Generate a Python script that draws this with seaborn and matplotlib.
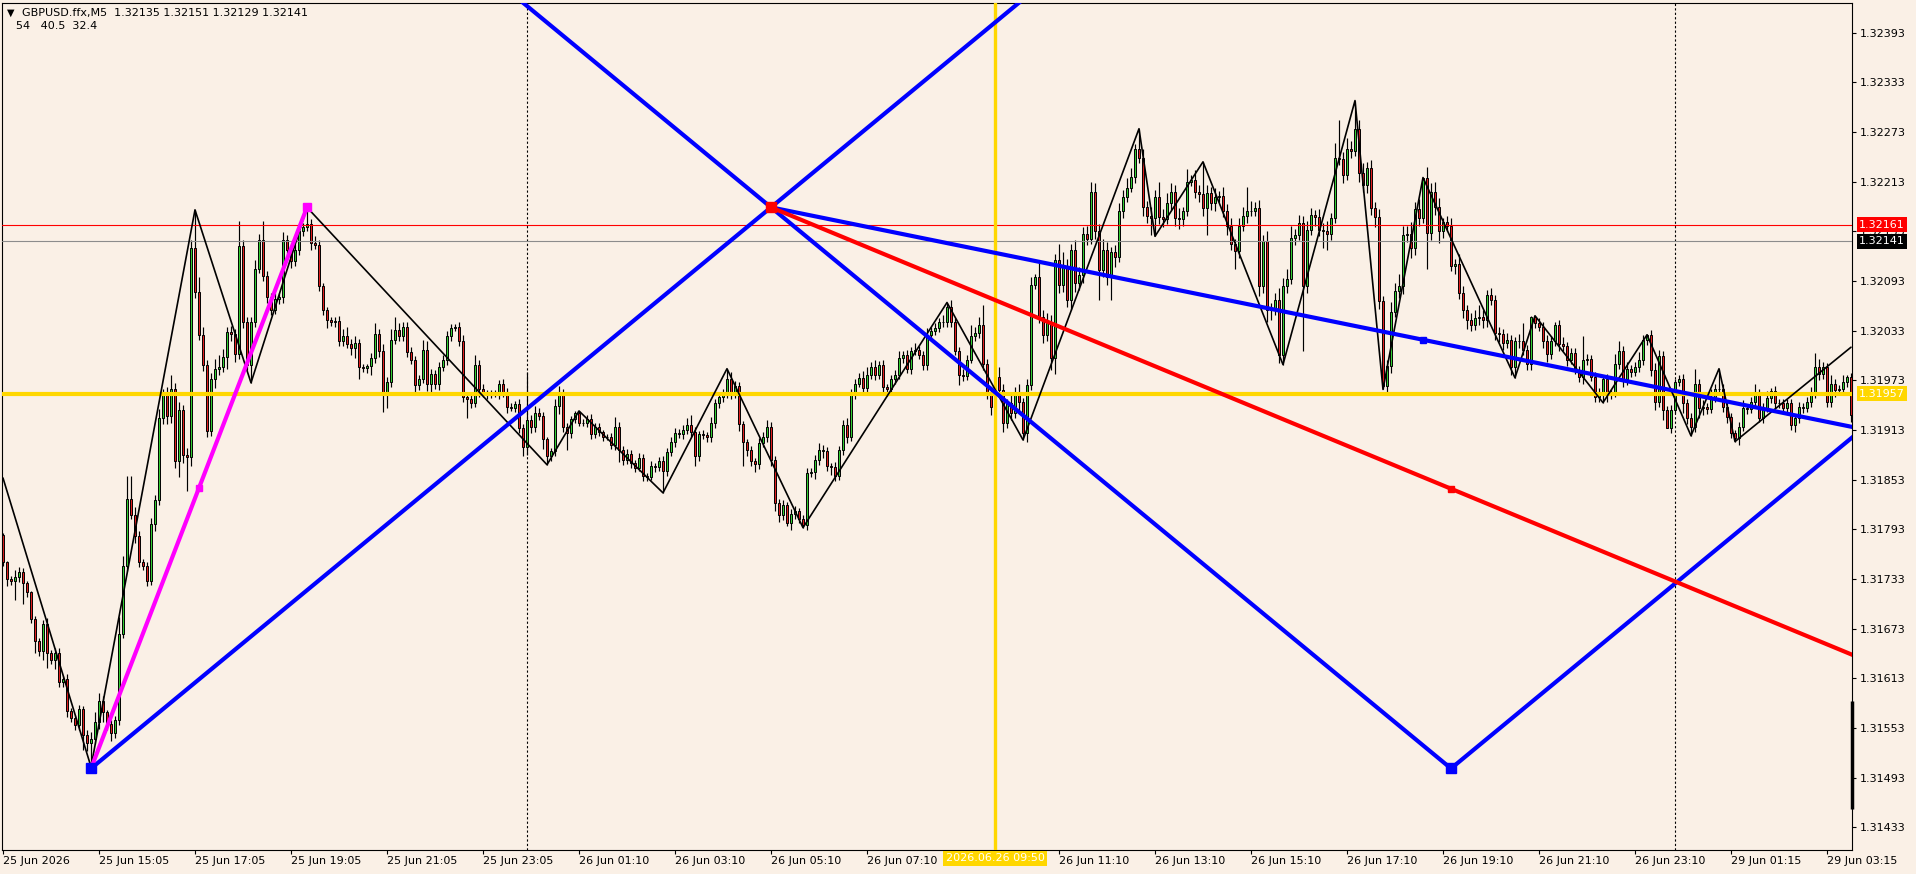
import numpy as np
import pandas as pd
import matplotlib
matplotlib.use("Agg")
import matplotlib.pyplot as plt
import seaborn as sns

# prices are kept as the last five digits: price = 1 + pts / 1e5
first_open = 31786
close_pts = [
    31753, 31733, 31731, 31735, 31742, 31728, 31717, 31685, 31658, 31646, 31678, 31644, 31635, 31644, 31608, 31612, 31574, 31565, 31556, 31576,
    31544, 31535, 31540, 31560, 31585, 31572, 31558, 31547, 31562, 31667, 31749, 31830, 31810, 31785, 31753, 31749, 31731, 31799, 31828, 31928,
    31955, 31930, 31962, 31876, 31937, 31883, 31880, 32133, 32080, 32028, 31992, 31912, 31974, 31987, 31989, 32001, 32031, 32029, 32005, 32135,
    32044, 31992, 32044, 32108, 32142, 32099, 32074, 32058, 32071, 32074, 32142, 32130, 32117, 32130, 32153, 32158, 32162, 32139, 32137, 32087,
    32058, 32046, 32044, 32045, 32020, 32027, 32017, 32012, 32018, 31989, 31988, 31990, 32000, 32029, 32009, 31955, 31971, 32022, 32034, 32026,
    32038, 32007, 31998, 31967, 31975, 32010, 31968, 31981, 31969, 31989, 31998, 32026, 32036, 32037, 32020, 31953, 31950, 31946, 31991, 31963,
    31957, 31955, 31958, 31956, 31969, 31958, 31941, 31940, 31944, 31915, 31893, 31925, 31917, 31934, 31930, 31902, 31882, 31887, 31942, 31957,
    31917, 31909, 31926, 31933, 31922, 31921, 31926, 31908, 31917, 31910, 31905, 31904, 31895, 31917, 31889, 31877, 31884, 31873, 31867, 31879,
    31857, 31856, 31869, 31868, 31875, 31863, 31886, 31899, 31909, 31908, 31913, 31919, 31911, 31881, 31908, 31907, 31904, 31921, 31945, 31953,
    31957, 31975, 31958, 31966, 31920, 31899, 31889, 31875, 31872, 31897, 31905, 31917, 31877, 31825, 31810, 31822, 31800, 31812, 31815, 31805,
    31798, 31861, 31862, 31877, 31889, 31887, 31869, 31868, 31857, 31889, 31919, 31905, 31957, 31969, 31976, 31964, 31979, 31989, 31979, 31991,
    31965, 31962, 31975, 31980, 32000, 32004, 31987, 32008, 32010, 32004, 31991, 32028, 32032, 32036, 32044, 32043, 32062, 32044, 32008, 31979,
    31978, 31998, 32026, 32030, 32040, 31993, 31957, 31941, 31977, 31961, 31921, 31945, 31933, 31959, 31947, 31909, 31967, 32088, 32098, 32050,
    32028, 32042, 32000, 32118, 32088, 32110, 32070, 32130, 32090, 32100, 32150, 32144, 32201, 32154, 32106, 32130, 32098, 32128, 32122, 32177,
    32195, 32205, 32219, 32252, 32242, 32182, 32171, 32169, 32195, 32170, 32168, 32187, 32201, 32169, 32168, 32177, 32213, 32215, 32201, 32198,
    32181, 32199, 32187, 32195, 32196, 32178, 32159, 32138, 32129, 32159, 32171, 32177, 32178, 32181, 32087, 32141, 32058, 32060, 32070, 32004,
    32087, 32095, 32145, 32148, 32163, 32087, 32155, 32173, 32170, 32155, 32153, 32150, 32169, 32242, 32241, 32221, 32252, 32250, 32277, 32223,
    32209, 32229, 32181, 32170, 32069, 31966, 31990, 32056, 32081, 32087, 32148, 32150, 32133, 32180, 32169, 32217, 32151, 32201, 32183, 32153,
    32164, 32159, 32111, 32114, 32079, 32058, 32046, 32040, 32048, 32050, 32046, 32076, 32070, 32030, 32029, 32018, 32022, 31989, 32020, 32021,
    32010, 31993, 32050, 32042, 32038, 32020, 32005, 32020, 32040, 32017, 32014, 31998, 32006, 31985, 31977, 31998, 31999, 31977, 31953, 31958,
    31975, 31957, 31958, 31993, 32008, 31975, 31987, 31983, 31989, 31997, 32022, 32028, 31986, 31947, 32002, 31937, 31915, 31937, 31971, 31975,
    31945, 31928, 31917, 31969, 31939, 31941, 31938, 31953, 31962, 31963, 31941, 31929, 31909, 31903, 31917, 31939, 31938, 31947, 31957, 31927,
    31940, 31952, 31960, 31946, 31945, 31940, 31945, 31919, 31927, 31941, 31940, 31947, 31957, 31989, 31981, 31989, 31947, 31969, 31961, 31962,
    31971, 31977, 31931,
]
# wick beyond the body, in points
up_wick = [
    3, 2, 4, 9, 5, 4, 3, 2, 3, 4, 5, 8, 3, 6, 5, 4, 6, 3, 4, 5,
    4, 6, 8, 12, 10, 6, 3, 4, 5, 20, 12, 27, 27, 10, 6, 4, 5, 8, 6, 10,
    8, 10, 18, 8, 10, 6, 8, 10, 46, 18, 10, 6, 8, 12, 14, 10, 6, 8, 6, 30,
    8, 6, 6, 10, 8, 23, 6, 5, 8, 5, 10, 6, 5, 8, 6, 5, 20, 6, 8, 5,
    4, 4, 3, 4, 6, 8, 10, 6, 8, 5, 4, 3, 6, 13, 6, 8, 6, 13, 15, 8,
    6, 5, 6, 4, 5, 12, 10, 6, 5, 6, 5, 6, 5, 4, 6, 8, 5, 6, 13, 6,
    5, 4, 3, 3, 4, 5, 6, 5, 4, 6, 5, 58, 6, 8, 6, 5, 3, 4, 8, 9,
    6, 5, 4, 3, 3, 4, 5, 6, 5, 4, 3, 3, 5, 12, 6, 5, 6, 5, 4, 6,
    5, 4, 6, 4, 5, 6, 5, 6, 6, 5, 6, 8, 12, 5, 4, 5, 4, 8, 6, 5,
    5, 12, 8, 6, 5, 4, 3, 5, 4, 6, 5, 8, 6, 4, 5, 6, 4, 5, 6, 4,
    5, 6, 5, 6, 8, 6, 5, 4, 6, 5, 6, 8, 6, 5, 6, 8, 10, 6, 8, 5,
    6, 4, 5, 6, 8, 5, 6, 5, 8, 5, 4, 8, 6, 6, 4, 8, 5, 8, 4, 5,
    8, 6, 14, 8, 10, 24, 6, 8, 9, 12, 8, 6, 10, 6, 10, 5, 8, 10, 4, 20,
    8, 12, 10, 8, 20, 18, 10, 8, 12, 10, 8, 10, 12, 10, 8, 14, 10, 6, 8, 10,
    8, 12, 10, 6, 25, 10, 8, 12, 8, 18, 10, 12, 10, 8, 12, 6, 15, 6, 12, 8,
    39, 10, 8, 10, 6, 10, 8, 10, 6, 10, 12, 29, 12, 8, 10, 8, 12, 6, 8, 14,
    10, 12, 14, 8, 10, 8, 10, 8, 6, 10, 8, 12, 6, 18, 45, 8, 14, 10, 34, 10,
    12, 8, 10, 8, 10, 6, 8, 12, 10, 14, 12, 10, 14, 8, 12, 1, 14, 10, 12, 10,
    5, 8, 10, 6, 12, 8, 6, 8, 10, 14, 8, 6, 8, 6, 8, 6, 8, 6, 5, 8,
    21, 6, 1, 1, 6, 5, 8, 6, 4, 6, 8, 5, 6, 6, 5, 28, 6, 5, 6, 6,
    5, 6, 5, 12, 12, 6, 8, 5, 6, 10, 6, 1, 6, 8, 8, 6, 5, 6, 4, 5,
    6, 5, 6, 18, 6, 8, 5, 10, 6, 24, 5, 6, 5, 4, 6, 10, 5, 6, 12, 6,
    5, 8, 4, 6, 5, 6, 5, 6, 5, 6, 5, 6, 8, 17, 10, 6, 5, 10, 6, 5,
    8, 3, 5,
]
dn_wick = [
    4, 9, 5, 23, 6, 25, 6, 5, 14, 6, 11, 18, 5, 11, 6, 5, 8, 5, 6, 5,
    18, 10, 29, 6, 8, 12, 8, 10, 6, 6, 5, 6, 5, 8, 6, 5, 6, 5, 8, 6,
    8, 10, 8, 9, 20, 10, 41, 10, 8, 6, 8, 7, 6, 10, 8, 6, 14, 8, 10, 6,
    8, 6, 22, 6, 5, 6, 8, 6, 5, 6, 8, 6, 8, 6, 5, 6, 5, 8, 5, 6,
    6, 10, 5, 6, 5, 6, 5, 8, 12, 14, 5, 6, 10, 6, 8, 20, 15, 6, 5, 6,
    5, 6, 5, 8, 6, 5, 8, 12, 6, 8, 5, 6, 5, 4, 6, 6, 23, 6, 5, 10,
    4, 5, 3, 3, 6, 5, 8, 4, 5, 6, 12, 10, 8, 6, 5, 12, 11, 6, 5, 10,
    6, 20, 6, 5, 4, 3, 5, 6, 5, 4, 5, 3, 5, 6, 15, 6, 5, 6, 5, 4,
    6, 5, 4, 6, 5, 26, 6, 5, 6, 5, 6, 5, 6, 12, 6, 5, 6, 5, 6, 5,
    6, 5, 8, 6, 8, 30, 8, 6, 10, 6, 5, 6, 8, 10, 8, 6, 3, 8, 6, 5,
    3, 6, 5, 8, 6, 8, 6, 10, 6, 5, 6, 8, 5, 6, 4, 8, 6, 5, 6, 5,
    6, 8, 5, 6, 5, 6, 5, 6, 4, 5, 6, 6, 5, 4, 5, 6, 5, 6, 5, 12,
    6, 5, 4, 5, 6, 8, 6, 10, 12, 8, 10, 6, 8, 6, 10, 8, 10, 6, 5, 8,
    10, 8, 14, 19, 10, 8, 8, 12, 10, 8, 10, 8, 6, 10, 36, 8, 10, 28, 12, 6,
    8, 6, 5, 8, 6, 10, 8, 20, 22, 8, 10, 6, 8, 10, 12, 8, 6, 5, 8, 10,
    10, 33, 8, 10, 6, 8, 10, 8, 22, 8, 6, 8, 5, 6, 12, 8, 14, 12, 8, 10,
    12, 8, 6, 8, 6, 79, 8, 6, 10, 8, 20, 20, 8, 6, 8, 10, 6, 8, 6, 10,
    8, 10, 8, 12, 10, 4, 10, 8, 6, 8, 10, 8, 12, 8, 10, 6, 44, 8, 10, 14,
    8, 6, 6, 10, 8, 10, 11, 8, 6, 8, 10, 8, 6, 8, 10, 8, 6, 10, 13, 8,
    6, 8, 8, 6, 5, 8, 10, 6, 5, 8, 6, 8, 5, 4, 6, 8, 6, 5, 6, 6,
    12, 10, 6, 5, 6, 10, 8, 6, 5, 6, 5, 6, 8, 10, 6, 12, 0, 6, 4, 5,
    12, 8, 11, 6, 12, 8, 6, 5, 6, 5, 6, 8, 6, 4, 8, 5, 6, 5, 6, 4,
    6, 5, 6, 8, 6, 5, 6, 6, 8, 5, 6, 5, 6, 5, 8, 6, 6, 6, 8, 6,
    5, 6, 8,
]

# zigzag indicator vertices (bar, pts)
zz_bars = [0, 22, 48, 62, 76, 136, 144, 165, 181, 200, 236, 255, 284, 288, 300,
           320, 338, 345, 355, 378, 383, 400, 411, 422, 429, 433, 462]
zz_pts = [31855, 31506, 32179, 31970, 32182, 31871, 31936, 31837, 31987, 31795, 32067, 31901, 32277, 32147, 32237,
          31992, 32311, 31962, 32218, 31976, 32051, 31946, 32028, 31906, 31987, 31899, 32013]

# drawn objects (bar, pts)
anchor_low = (22, 31504)
pivot = (192, 32182)
mirror_low = (362, 31504)
flat_mark = (355, 32022)
red_mark = (362, 31842)
magenta_top = (76, 32182)
magenta_mid = (49, 31843)

hline_yellow = 1.31957
hline_red = 1.32161
hline_bid = 1.32141
vline_bar = 248
day_sep_bars = [131, 418]
axis_block = [1.31455, 1.31585]

time_tick_bars = [0, 24, 48, 72, 96, 120, 144, 168, 192, 216, 264, 288, 312, 336, 360, 384, 408, 432, 456]
time_labels = ["25 Jun 2026", "25 Jun 15:05", "25 Jun 17:05", "25 Jun 19:05", "25 Jun 21:05", "25 Jun 23:05",
               "26 Jun 01:10", "26 Jun 03:10", "26 Jun 05:10", "26 Jun 07:10", "26 Jun 11:10", "26 Jun 13:10",
               "26 Jun 15:10", "26 Jun 17:10", "26 Jun 19:10", "26 Jun 21:10", "26 Jun 23:10", "29 Jun 01:15",
               "29 Jun 03:15"]
price_ticks = [1.32393, 1.32333, 1.32273, 1.32213, 1.32153, 1.32093, 1.32033, 1.31973, 1.31913,
               1.31853, 1.31793, 1.31733, 1.31673, 1.31613, 1.31553, 1.31493, 1.31433]

BG = "#FAF0E6"
GREEN = "#32CD32"
RED = "#E01E1E"
GOLD = "#FFD700"


def px(p):
    return 1 + p / 1e5


def extend(p0, p1, x_end):
    slope = (px(p1[1]) - px(p0[1])) / (p1[0] - p0[0])
    return [p0[0], x_end], [px(p0[1]), px(p0[1]) + slope * (x_end - p0[0])]


close = np.array([px(v) for v in close_pts])
df = pd.DataFrame({"bar": np.arange(len(close)), "close": close})
df["open"] = df["close"].shift(1).fillna(px(first_open))
df["high"] = np.maximum(df["open"], df["close"]) + np.array(up_wick) / 1e5
df["low"] = np.minimum(df["open"], df["close"]) - np.array(dn_wick) / 1e5

sns.set_theme(style="white", rc={"axes.facecolor": BG, "figure.facecolor": BG})
plt.rcParams["font.family"] = ["DejaVu Sans"]

fig = plt.figure(figsize=(19.16, 8.74), dpi=100)
ax = fig.add_axes([2 / 1916, 1 - 850 / 874, 1850 / 1916, 847 / 874])
ax.set_facecolor(BG)

# candles
ax.vlines(df["bar"], df["low"], df["high"], color="black", lw=0.85, zorder=2)
body_lo = np.minimum(df["open"], df["close"])
body_h = np.maximum((df["close"] - df["open"]).abs(), 0.3e-5)
bull = df["close"] >= df["open"]
ax.bar(df["bar"][bull], body_h[bull], bottom=body_lo[bull], width=0.62,
       color=GREEN, edgecolor="black", linewidth=0.7, zorder=2.1)
ax.bar(df["bar"][~bull], body_h[~bull], bottom=body_lo[~bull], width=0.62,
       color=RED, edgecolor="black", linewidth=0.7, zorder=2.1)

# horizontal / vertical objects
ax.axhline(hline_yellow, color=GOLD, lw=3.0, zorder=3)
ax.axhline(hline_red, color="#FF0000", lw=0.8, zorder=3)
ax.axhline(hline_bid, color="#8C8C8C", lw=0.8, zorder=3)
ax.axvline(vline_bar, color=GOLD, lw=2.4, zorder=3)
for b in day_sep_bars:
    ax.axvline(b, color="black", lw=0.8, ls=(0, (2, 2)), zorder=1.5)

# zigzag
sns.lineplot(x=zz_bars, y=[px(v) for v in zz_pts], color="black", lw=1.2,
             sort=False, estimator=None, ax=ax, zorder=4, legend=False)

# fan lines
lw_obj = 3.0
xs, ys = extend(anchor_low, pivot, 270)
ax.plot(xs, ys, color="#0000FF", lw=lw_obj, zorder=5)
xs, ys = extend(mirror_low, pivot, 110)
ax.plot(xs, ys, color="#0000FF", lw=lw_obj, zorder=5)
xs, ys = extend(mirror_low, (mirror_low[0] + pivot[0] - anchor_low[0], mirror_low[1] + pivot[1] - anchor_low[1]), 470)
ax.plot(xs, ys, color="#0000FF", lw=lw_obj, zorder=5)
xs, ys = extend(pivot, flat_mark, 470)
ax.plot(xs, ys, color="#0000FF", lw=lw_obj, zorder=5)
xs, ys = extend(pivot, red_mark, 470)
ax.plot(xs, ys, color="#FF0000", lw=lw_obj, zorder=5)
ax.plot([anchor_low[0], magenta_top[0]], [px(anchor_low[1]), px(magenta_top[1])],
        color="#FF00FF", lw=lw_obj, zorder=5)

# anchor squares
for (b, p), col, ms in [(anchor_low, "#0000FF", 6.5), (mirror_low, "#0000FF", 6.5),
                        (pivot, "#FF0000", 7), (magenta_top, "#FF00FF", 6),
                        (magenta_mid, "#FF00FF", 5), (red_mark, "#FF0000", 4.5),
                        (flat_mark, "#0000FF", 4.5)]:
    ax.plot([b], [px(p)], marker="s", ms=ms, color=col, mec=col, zorder=6)

ax.set_xlim(-0.25, 462.25)
ax.set_ylim(1.314055, 1.324289)

# axes styling
for s in ax.spines.values():
    s.set_color("black")
    s.set_linewidth(0.8)
ax.yaxis.tick_right()
ax.set_yticks(price_ticks)
ax.set_yticklabels([f"{v:.5f}" for v in price_ticks])
ax.set_xticks(time_tick_bars)
ax.set_xticklabels(time_labels, ha="left")
ax.tick_params(axis="y", direction="out", length=3, width=0.8, pad=2.5, labelsize=8, colors="black")
ax.tick_params(axis="x", direction="out", length=3, width=0.8, pad=1.5, labelsize=8, colors="black")
ax.tick_params(axis="x", which="both", bottom=True)
ax.tick_params(axis="y", which="both", right=True, left=False)
ax.grid(False)

ax.plot([462.25, 462.25], axis_block, color="black", lw=2.5, solid_capstyle="butt",
        clip_on=False, zorder=7)

# price boxes on the right scale
for val, fc in [(hline_red, "#FF0000"), (hline_bid, "#000000"), (hline_yellow, GOLD)]:
    ax.annotate(f"{val:.5f}", xy=(1, val), xycoords=("axes fraction", "data"),
                xytext=(5, 0), textcoords="offset points", ha="left", va="center",
                color="white", fontsize=8, annotation_clip=False, zorder=8,
                bbox=dict(boxstyle="square,pad=0.22", fc=fc, ec="none"))

# time box for the vertical line
ax.annotate("2026.06.26 09:50", xy=(vline_bar, 0), xycoords=("data", "axes fraction"),
            xytext=(0, -2.5), textcoords="offset points", ha="center", va="top",
            color="white", fontsize=8, annotation_clip=False, zorder=8,
            bbox=dict(boxstyle="square,pad=0.22", fc=GOLD, ec="none"))

# header
fig.text(7 / 1916, 1 - 13 / 874, "\u25bc", fontsize=7, va="center", ha="left", color="black")
fig.text(22 / 1916, 1 - 13 / 874, "GBPUSD.ffx,M5  1.32135 1.32151 1.32129 1.32141",
         fontsize=8, va="center", ha="left", color="black")
fig.text(16 / 1916, 1 - 26 / 874, "54   40.5  32.4", fontsize=8, va="center", ha="left", color="black")

fig.savefig("out.png", dpi=100, facecolor=BG)
